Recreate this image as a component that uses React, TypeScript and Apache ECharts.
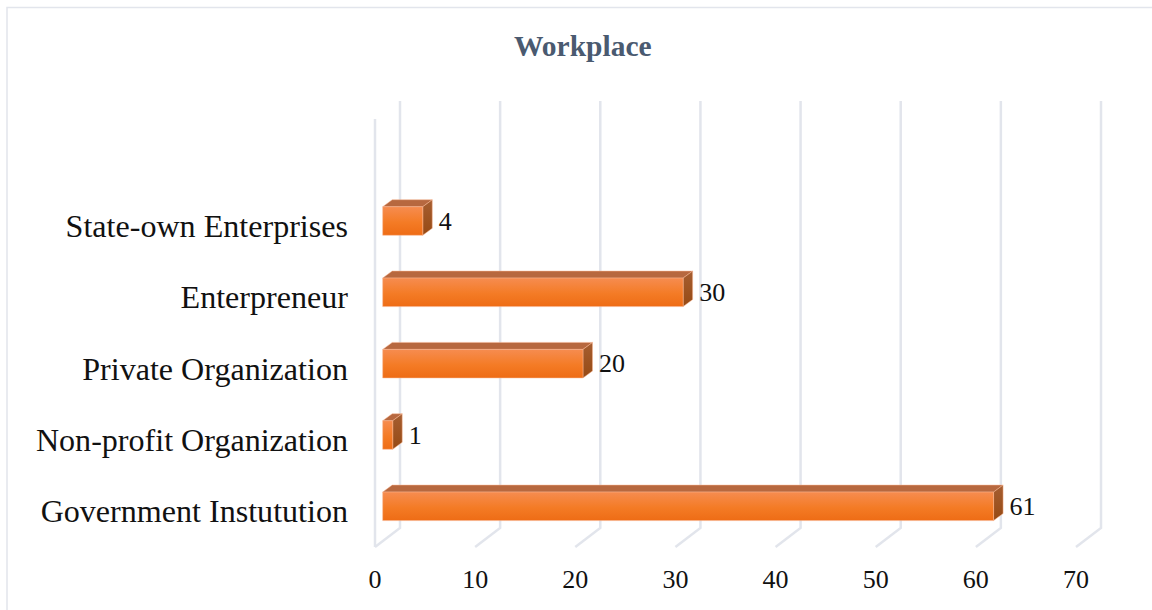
import React, { useEffect, useRef } from "react";
import * as echarts from "echarts";

const categories = ["Government Instutution", "Non-profit Organization", "Private Organization", "Enterpreneur", "State-own Enterprises", ""];
const values = [61, 1, 20, 30, 4];
const ticks = [0, 10, 20, 30, 40, 50, 60, 70];
const FONT = '"Liberation Serif", "Times New Roman", serif';

export default function App() {
  const ref = useRef<HTMLDivElement>(null);
  useEffect(() => {
    const chart = echarts.init(ref.current!, undefined, { renderer: "svg" });
    const wall = "#E2E5EC";
    chart.setOption({
      animation: false,
      backgroundColor: "#ffffff",
      title: {
        text: "Workplace",
        left: 509,
        top: 26,
        textStyle: { fontFamily: FONT, fontSize: 29.5, fontWeight: "bold", color: "#4A5A70" },
      },
      graphic: [
        { type: "polyline", silent: true, shape: { points: [[7, 610], [7, 7.5], [1152, 7.5]] }, style: { stroke: wall, lineWidth: 1.5, fill: "none" } },
      ],
      grid: { left: 375, top: 119, width: 701, height: 428, containLabel: false },
      xAxis: {
        type: "value",
        min: 0,
        max: 70,
        interval: 10,
        splitLine: { show: false },
        axisLine: { show: false },
        axisTick: { show: false },
        axisLabel: { fontFamily: FONT, fontSize: 26, color: "#111", margin: 19 },
      },
      yAxis: {
        type: "category",
        data: categories,
        axisLine: { show: false },
        axisTick: { show: false },
        axisLabel: { fontFamily: FONT, fontSize: 32.1, color: "#111", margin: 27, padding: [3, 0, 0, 0] },
      },
      series: [
        {
          type: "custom",
          silent: true,
          clip: false,
          z: 1,
          data: ticks.map((t) => [t]),
          encode: { x: 0 },
          renderItem: (params: any, api: any) => {
            const sys = params.coordSys;
            const x = api.coord([api.value(0), 0])[0];
            const bottom = sys.y + sys.height;
            const children: any[] = [
              { type: "polyline", shape: { points: [[x, bottom], [x + 25, bottom - 19], [x + 25, sys.y - 18]] }, style: { stroke: wall, lineWidth: 2.5, fill: "none" } },
            ];
            if (api.value(0) === 0) {
              children.push({ type: "line", shape: { x1: x, y1: sys.y, x2: x, y2: bottom }, style: { stroke: wall, lineWidth: 2.5 } });
            }
            return { type: "group", children };
          },
        },
        {
          type: "custom",
          silent: true,
          clip: false,
          z: 2,
          data: values.map((v, i) => [v, i]),
          encode: { x: 0, y: 1 },
          renderItem: (_params: any, api: any) => {
            const v = api.value(0);
            const p = api.coord([v, api.value(1)]);
            const o = api.coord([0, api.value(1)]);
            const h = api.size([0, 1])[1] * 0.4;
            const x0 = o[0] + 7.7;
            const x1 = p[0] + 7.7;
            const y0 = p[1] - 5 - h / 2;
            const y1 = y0 + h;
            const dx = 9.5;
            const dy = 7;
            const edge = "#F8B590";
            return {
              type: "group",
              children: [
                {
                  type: "polygon",
                  shape: { points: [[x0, y0], [x0 + dx, y0 - dy], [x1 + dx, y0 - dy], [x1, y0]] },
                  style: { fill: "#B7683F", stroke: edge, lineWidth: 0.5 },
                },
                {
                  type: "polygon",
                  shape: { points: [[x1, y0], [x1 + dx, y0 - dy], [x1 + dx, y1 - dy], [x1, y1]] },
                  style: {
                    fill: new echarts.graphic.LinearGradient(0, 0, 0, 1, [
                      { offset: 0, color: "#A65E31" },
                      { offset: 1, color: "#964A14" },
                    ]),
                    stroke: edge,
                    lineWidth: 0.5,
                  },
                },
                {
                  type: "rect",
                  shape: { x: x0, y: y0, width: x1 - x0, height: h },
                  style: {
                    fill: new echarts.graphic.LinearGradient(0, 0, 0, 1, [
                      { offset: 0, color: "#F68C50" },
                      { offset: 0.55, color: "#F47B25" },
                      { offset: 1, color: "#EE6C15" },
                    ]),
                    stroke: edge,
                    lineWidth: 0.5,
                  },
                },
                {
                  type: "text",
                  style: {
                    x: x1 + dx + 6.5,
                    y: y0 + h / 2,
                    text: String(v),
                    font: `26px ${FONT}`,
                    fill: "#111",
                    textAlign: "left",
                    textVerticalAlign: "middle",
                  },
                },
              ],
            };
          },
        },
      ],
    });
    return () => chart.dispose();
  }, []);
  return <div ref={ref} style={{ position: "absolute", left: 0, top: 0, width: 1152, height: 610 }} />;
}
